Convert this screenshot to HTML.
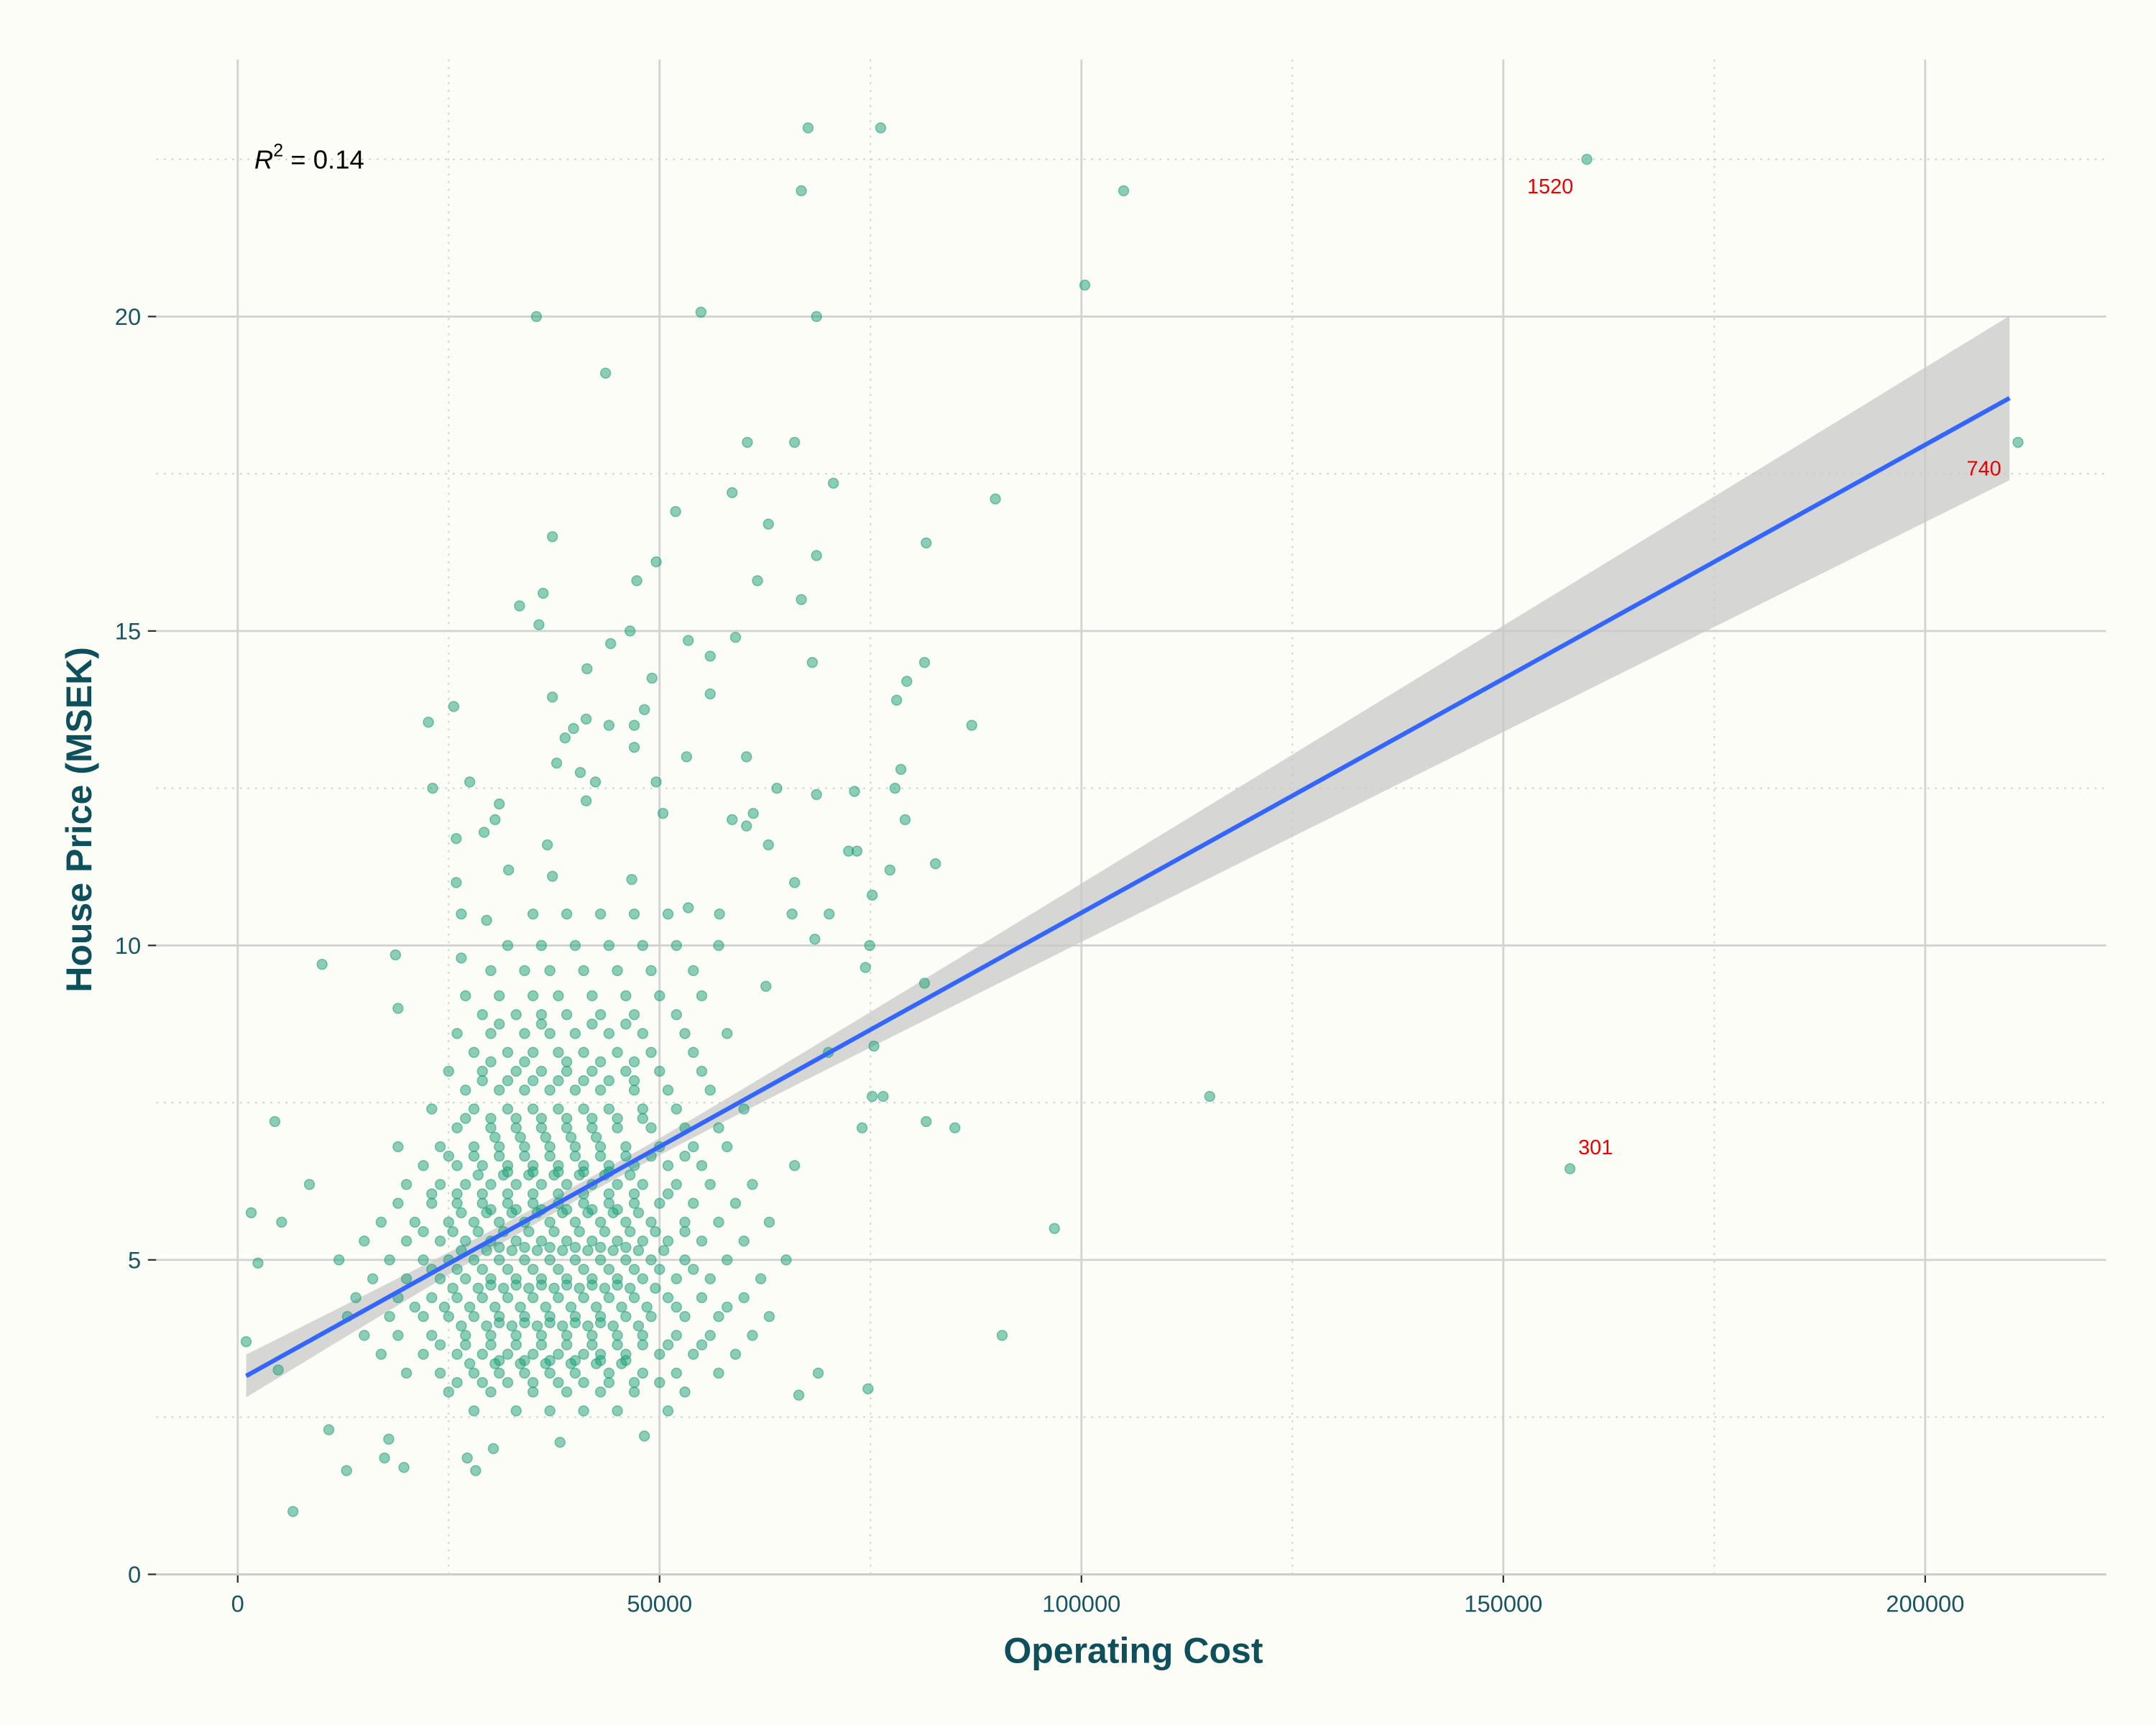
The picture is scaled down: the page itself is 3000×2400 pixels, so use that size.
<!DOCTYPE html>
<html><head><meta charset="utf-8"><style>
html,body{margin:0;padding:0;background:#fdfdf8;}
svg{display:block;font-family:"Liberation Sans","DejaVu Sans",sans-serif;}
</style></head><body>
<svg id="chart" width="3000" height="2400" viewBox="0 0 1560 1248" xmlns="http://www.w3.org/2000/svg">
<rect x="0" y="0" width="1560" height="1248" fill="#fdfdf8"/>
<g id="grid"></g>
<g id="band"></g>
<g id="points"></g>
<g id="fit"></g>
<g id="axes"></g>
<text x="184" y="122" font-size="19" fill="#000"><tspan font-style="italic">R</tspan><tspan dy="-9" font-size="13">2</tspan><tspan dy="9"> = 0.14</tspan></text>
<text x="1105" y="140" font-size="15" fill="#ee0000">1520</text>
<text x="1423" y="344" font-size="15" fill="#ee0000">740</text>
<text x="1142" y="835" font-size="15" fill="#ee0000">301</text>
<text x="820" y="1203" font-size="26" font-weight="bold" fill="#0e4f5c" text-anchor="middle">Operating Cost</text>
<text x="66" y="593" font-size="26" font-weight="bold" fill="#0e4f5c" text-anchor="middle" transform="rotate(-90 66 593)">House Price (MSEK)</text>
</svg>
<script>
const xTicks = [0, 50000, 100000, 150000, 200000];
const xMinor = [25000, 75000, 125000, 175000];
const yTicks = [0, 5, 10, 15, 20];
const yMinor = [2.5, 7.5, 12.5, 17.5, 22.5];
const fitIntercept = 3.08;
const fitSlope = 0.0000744;
const fitXRange = [1000, 210000];
const outlierX = [67.6,76.2,66.8,105.0,159.9,100.4,35.4,54.9,68.6,43.6,211,60.4,66.0,58.6,70.6,89.8,51.9,37.3,62.9,81.6,68.6,49.6,47.3,61.6,36.2,33.4,66.8,35.7,46.5,44.2,59.0,53.4,56.0,41.4,68.1,81.4,49.1,79.3,37.3,56.0,78.1,25.6,48.2,22.6,41.3,44.0,47.0,87.0,39.8,38.8,47.0,53.2,60.3,37.8,78.6,40.6,23.1,27.5,42.4,49.6,63.9,68.6,73.1,77.9,31.0,41.3,50.4,61.1,30.5,58.6,79.1,60.3,29.2,36.7,62.9,25.9,72.4,73.4,82.7,77.3,37.3,32.1,46.7,25.9,66.0,75.2,26.5,29.5,53.4,57.1,65.7,70.1,68.4,74.9,10.0,74.4,18.7,62.6,81.4,26.5,19.0,75.4,70.0,115.2,75.2,76.5,81.6,85.0,74.0,157.9,96.8,90.6,6.55,10.8,12.9,1.0,1.6,2.4,4.4,8.5,4.8,5.2,74.7,66.5,68.8,30.3,27.2,28.2,38.2,48.2,19.7,17.4,17.9];
const outlierY = [23.0,23.0,22.0,22.0,22.5,20.5,20.0,20.07,20.0,19.1,18.0,18.0,18.0,17.2,17.35,17.1,16.9,16.5,16.7,16.4,16.2,16.1,15.8,15.8,15.6,15.4,15.5,15.1,15.0,14.8,14.9,14.85,14.6,14.4,14.5,14.5,14.25,14.2,13.95,14.0,13.9,13.8,13.75,13.55,13.6,13.5,13.5,13.5,13.45,13.3,13.15,13.0,13.0,12.9,12.8,12.75,12.5,12.6,12.6,12.6,12.5,12.4,12.45,12.5,12.25,12.3,12.1,12.1,12.0,12.0,12.0,11.9,11.8,11.6,11.6,11.7,11.5,11.5,11.3,11.2,11.1,11.2,11.05,11.0,11.0,10.8,10.5,10.4,10.6,10.5,10.5,10.5,10.1,10.0,9.7,9.65,9.85,9.35,9.4,9.8,9.0,8.4,8.3,7.6,7.6,7.6,7.2,7.1,7.1,6.45,5.5,3.8,1.0,2.3,1.65,3.7,5.75,4.95,7.2,6.2,3.25,5.6,2.95,2.85,3.2,2.0,1.85,1.65,2.1,2.2,1.7,1.85,2.15];
const clusterRowY = [2.6,2.9,3.2,3.5,3.8,4.1,4.4,4.7,5.0,5.3,5.6,5.9,6.2,6.5,6.8,7.1,7.4,7.7,8.0,8.3,8.6,8.9,9.2,9.6,10.0,10.5,3.35,3.95,4.55,5.15,5.75,6.35,6.95,3.05,3.65,4.25,4.85,5.45,6.05,6.65,7.25,7.85,4.0,4.6,5.2,5.8,6.4,3.4,8.15,8.75];
const clusterRowX = [
[28,33,37,41,45,51],
[25,30,35,39,43,47,53],
[20,24,28,31,34,37,40,44,48,52,57],
[17,22,26,29,32,35,38,41,43,46,50,54,59],
[15,19,23,27,30,33,36,39,42,45,48,52,56,61],
[13,18,22,25,28,31,34,37,40,43,46,49,53,57,63],
[14,19,23,26,29,32,35,38,41,44,47,51,55,60],
[16,20,24,27,30,33,36,39,42,45,48,52,56,62],
[12,18,22,25,28,31,34,37,40,43,46,49,53,58,65],
[15,20,24,27,30,33,36,39,42,45,48,51,55,60],
[17,21,25,28,31,34,37,40,43,46,49,53,57,63],
[19,23,26,29,32,35,38,41,44,47,50,54,59],
[20,24,27,30,33,36,39,42,45,48,52,56,61],
[22,26,29,32,35,38,41,44,47,51,55,66],
[19,24,28,31,34,37,40,43,46,50,54,58],
[26,30,33,36,39,42,45,49,53,57],
[23,28,32,35,38,41,44,48,52,60],
[27,31,34,37,40,43,47,51,56],
[25,29,33,36,39,42,46,50,55],
[28,32,35,38,41,45,49,54],
[26,30,34,37,40,44,48,53,58],
[29,33,36,39,43,47,52],
[27,31,35,38,42,46,50,55],
[30,34,37,41,45,49,54],
[32,36,40,44,48,52,57],
[35,39,43,47,51],
[27.5,30.5,33.5,36.5,39.5,42.5,45.5],
[26.5,29.5,32.5,35.5,38.5,41.5,44.5,47.5],
[25.5,28.5,31.5,34.5,37.5,40.5,43.5,46.5,49.5],
[26.5,29.5,32.5,35.5,38.5,41.5,44.5,47.5,50.5],
[26.5,29.5,32.5,35.5,38.5,41.5,44.5,47.5],
[28.5,31.5,34.5,37.5,40.5,43.5,46.5],
[30.5,33.5,36.5,39.5,42.5],
[26,29,32,35,38,41,44,47,50],
[24,27,30,33,36,39,42,45,48,51,55],
[21,24.5,27.5,30.5,33.5,36.5,39.5,42.5,45.5,48.5,52,58],
[23,26,29,32,35,38,41,44,47,50,54],
[22,25.5,28.5,31.5,34.5,37.5,40.5,43.5,46.5,49.5,53],
[23,26,29,32,35,38,41,44,47,51],
[25,28,31,34,37,40,43,46,49,53],
[27,30,33,36,39,42,45,48],
[29,32,35,38,41,44,47],
[31,34,37,40,43],
[30,33,36,39,42,45],
[31,34,37,40,43,46],
[30,33,36,39,42,45],
[32,35,38,41,44],
[31,34,37,40,43,46],
[30,34,39,43,47],
[31,36,42,46]
];

const NS = "http://www.w3.org/2000/svg";
const X0 = 172, XPX = 305.25/50000, Y0 = 1139, YPX = 45.5;
function sx(v){ return X0 + v*XPX; }
function sy(v){ return Y0 - v*YPX; }
function mk(tag, attrs, parent){
  const e = document.createElementNS(NS, tag);
  for (const k in attrs) e.setAttribute(k, attrs[k]);
  parent.appendChild(e);
  return e;
}
const grid = document.getElementById('grid');
const axes = document.getElementById('axes');
const L = 113, R = 1524, T = 43;

yMinor.forEach(v => {
  const l = mk('line', {x1:L, x2:R, y1:sy(v), y2:sy(v), stroke:'#d0d0d0', 'stroke-width':1, 'stroke-dasharray':'1.5 4'}, grid);
  
  
});
xMinor.forEach(v => {
  const l = mk('line', {x1:sx(v), x2:sx(v), y1:T, y2:Y0, stroke:'#d0d0d0', 'stroke-width':1, 'stroke-dasharray':'1.5 4'}, grid);
  
  
});
yTicks.forEach(v => {
  const l = mk('line', {x1:L, x2:R, y1:sy(v), y2:sy(v), stroke:'#d3d3d3', 'stroke-width':1.5}, grid);
  
  
  const t = mk('line', {x1:107, x2:113, y1:sy(v), y2:sy(v), stroke:'#333', 'stroke-width':1.2}, axes);
  
  
  const tx = mk('text', {x:102, y:sy(v)+6, 'font-size':17, fill:'#1a5560', 'text-anchor':'end'}, axes);
  
  
  tx.textContent = v;
});
xTicks.forEach(v => {
  const l = mk('line', {x1:sx(v), x2:sx(v), y1:T, y2:Y0, stroke:'#d3d3d3', 'stroke-width':1.5}, grid);
  
  
  const t = mk('line', {x1:sx(v), x2:sx(v), y1:Y0, y2:Y0+6, stroke:'#333', 'stroke-width':1.2}, axes);
  
  
  const tx = mk('text', {x:sx(v), y:1166, 'font-size':17, fill:'#1a5560', 'text-anchor':'middle'}, axes);
  
  
  tx.textContent = v;
});
const xa = mk('line', {x1:L, x2:R, y1:Y0, y2:Y0, stroke:'#cccccc', 'stroke-width':1.5}, axes);



const band = document.getElementById('band');
const xm = 42000;
function half(x){ return Math.sqrt(0.0144 + 6e-11*(x-xm)*(x-xm)); }
function fy(x){ return fitIntercept + fitSlope*x; }
let up = [], lo = [];
for (let i = 0; i <= 60; i++) {
  const x = fitXRange[0] + (fitXRange[1]-fitXRange[0])*i/60;
  up.push(sx(x)+','+sy(fy(x)+half(x)));
  lo.unshift(sx(x)+','+sy(fy(x)-half(x)));
}
const poly = mk('polygon', {points: up.concat(lo).join(' '), fill:'#c8c8c8', 'fill-opacity':0.75}, band);



const pts = document.getElementById('points');
function dot(xk, y){
  const c = mk('circle', {cx:sx(xk*1000), cy:sy(y), r:3.6, fill:'#1b9e77', 'fill-opacity':0.5, stroke:'#1b9e77', 'stroke-opacity':0.55, 'stroke-width':0.8}, pts);
  
  
}
outlierX.forEach((x, i) => dot(x, outlierY[i]));
clusterRowY.forEach((y, r) => clusterRowX[r].forEach(x => dot(x, y)));

const fit = document.getElementById('fit');
const fl = mk('line', {x1:sx(fitXRange[0]), y1:sy(fy(fitXRange[0])), x2:sx(fitXRange[1]), y2:sy(fy(fitXRange[1])), stroke:'#3366ff', 'stroke-width':3.2}, fit);


</script>
</body></html>
